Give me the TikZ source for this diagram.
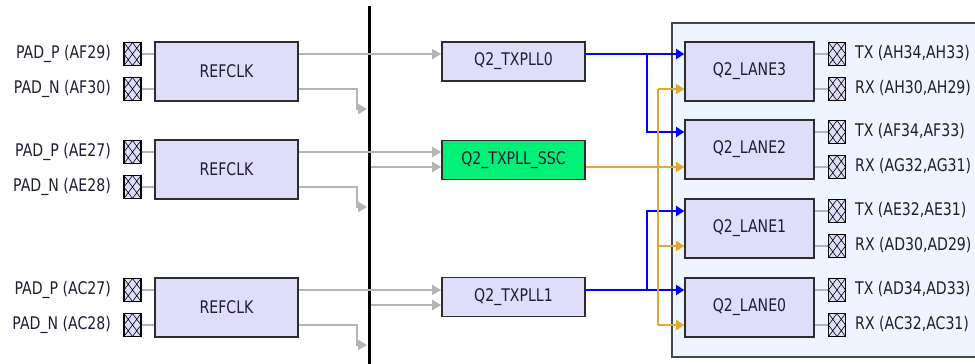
\documentclass[tikz,border=0pt]{standalone}
\usepackage{fontspec}
\setmainfont{DejaVu Sans}[FakeStretch=0.81]
\usetikzlibrary{arrows.meta,calc}
\definecolor{boxfill}{RGB}{222,222,250}
\definecolor{boxdraw}{RGB}{45,45,45}
\definecolor{sscfill}{RGB}{0,240,120}
\definecolor{contfill}{RGB}{238,245,255}
\definecolor{contdraw}{RGB}{70,70,70}
\definecolor{wiregray}{RGB}{180,180,180}
\definecolor{wireblue}{RGB}{0,0,255}
\definecolor{wireorange}{RGB}{226,170,40}
\definecolor{txt}{RGB}{30,30,50}
\begin{document}
\begin{tikzpicture}[x=1pt,y=-1pt,
  font=\fontsize{17.4}{19}\selectfont,
  every node/.style={text=txt},
  blk/.style={draw=boxdraw,line width=1.6pt,fill=boxfill,minimum width=143pt,minimum height=59pt,inner sep=0},
  pll/.style={blk,minimum height=39pt},
  lane/.style={blk,minimum width=129pt},
  pad/.style={draw=black,line width=1.1pt,fill=boxfill,minimum width=17pt,minimum height=23pt,inner sep=0,
    path picture={
      \draw[black,line width=0.6pt]
        (path picture bounding box.north west) -- (path picture bounding box.south east)
        (path picture bounding box.south west) -- (path picture bounding box.north east)
        (path picture bounding box.north) -- (path picture bounding box.east) -- (path picture bounding box.south) -- (path picture bounding box.west) -- cycle;}},
  lbl/.style={inner sep=0,text height=12.7pt,text depth=3.6pt},
  gw/.style={draw=wiregray,line width=1.8pt},
  gwa/.style={gw,-{Triangle[length=9pt,width=10pt]}},
  bw/.style={draw=wireblue,line width=1.8pt,-{Triangle[length=8pt,width=10pt]}},
  ow/.style={draw=wireorange,line width=1.8pt},
  owa/.style={ow,-{Triangle[length=8pt,width=10pt]}}
]
\useasboundingbox (0,0) rectangle (975,364);
\clip (0,0) rectangle (975,364);
\fill[white] (0,0) rectangle (975,364);

% container
\node[draw=contdraw,line width=1.6pt,fill=contfill,minimum width=320pt,minimum height=334pt,inner sep=0,anchor=north west] (cont) at (671,22) {};

% vertical divider
\coordinate (divtop) at (369,6);
\coordinate (divbot) at (369,366);
\draw[line width=3pt,black] (divtop) -- (divbot);

% REFCLK blocks
\node[blk] (r1) at (226.5,71.5) {REFCLK};
\node[blk] (r2) at (226.5,169.5) {REFCLK};
\node[blk] (r3) at (226.5,307.5) {REFCLK};

% left pads
\node[pad] (p1a) at (132.5,54) {};
\node[pad] (p1b) at (132.5,89) {};
\node[pad] (p2a) at (132.5,152) {};
\node[pad] (p2b) at (132.5,187) {};
\node[pad] (p3a) at (132.5,290) {};
\node[pad] (p3b) at (132.5,325) {};
\node[lbl,anchor=east] (l1a) at (111,54) {PAD\_P (AF29)};
\node[lbl,anchor=east] (l1b) at (111,89) {PAD\_N (AF30)};
\node[lbl,anchor=east] (l2a) at (111,152) {PAD\_P (AE27)};
\node[lbl,anchor=east] (l2b) at (111,187) {PAD\_N (AE28)};
\node[lbl,anchor=east] (l3a) at (111,290) {PAD\_P (AC27)};
\node[lbl,anchor=east] (l3b) at (111,325) {PAD\_N (AC28)};
\foreach \p/\r in {p1a/r1,p1b/r1,p2a/r2,p2b/r2,p3a/r3,p3b/r3}
  \draw[gw] (\p.east) -- (\r.west |- \p);

% PLL blocks
\node[pll] (t0) at (513.5,61.5) {Q2\_TXPLL0};
\node[pll,fill=sscfill] (ssc) at (513.5,160) {Q2\_TXPLL\_SSC};
\node[pll] (t1) at (513.5,297) {Q2\_TXPLL1};

% gray wires
\coordinate (v1) at (367,109);
\coordinate (v2) at (367,207);
\coordinate (v3) at (367,345);
\coordinate (s2) at (371,167);
\coordinate (s3) at (371,305);
\draw[gwa] (r1.east |- p1a) -- (t0.west |- p1a);
\draw[gwa] (r1.east |- p1b) -| ++(58,20) -- (v1);
\draw[gwa] (r2.east |- p2a) -- (ssc.west |- p2a);
\draw[gwa] (s2) -- (ssc.west |- s2);
\draw[gwa] (r2.east |- p2b) -| ++(58,20) -- (v2);
\draw[gwa] (r3.east |- p3a) -- (t1.west |- p3a);
\draw[gwa] (s3) -- (t1.west |- s3);
\draw[gwa] (r3.east |- p3b) -| ++(58,20) -- (v3);

% lanes
\node[lane] (ln3) at (749.5,71.5) {Q2\_LANE3};
\node[lane] (ln2) at (749.5,149.5) {Q2\_LANE2};
\node[lane] (ln1) at (749.5,228.5) {Q2\_LANE1};
\node[lane] (ln0) at (749.5,307.5) {Q2\_LANE0};

% lane pads and labels
\foreach \n/\y/\t in {3t/54/{TX (AH34,AH33)},3r/89/{RX (AH30,AH29)},2t/132/{TX (AF34,AF33)},2r/167/{RX (AG32,AG31)},1t/211/{TX (AE32,AE31)},1r/246/{RX (AD30,AD29)},0t/290/{TX (AD34,AD33)},0r/325/{RX (AC32,AC31)}}{
  \node[pad] (q\n) at (837,\y) {};
  \node[lbl,anchor=west] (ql\n) at (855,\y) {\t};
}
\foreach \p/\l in {q3t/ln3,q3r/ln3,q2t/ln2,q2r/ln2,q1t/ln1,q1r/ln1,q0t/ln0,q0r/ln0}
  \draw[gw] (\l.east |- \p) -- (\p.west);

% blue wires
\coordinate (bj0) at (647,54);
\coordinate (bj1) at (647,290);
\draw[bw] (t0.east |- q3t) -- (ln3.west |- q3t);
\draw[bw] (bj0) |- (ln2.west |- q2t);
\draw[bw] (t1.east |- q0t) -- (ln0.west |- q0t);
\draw[bw] (bj1) |- (ln1.west |- q1t);

% orange wires
\coordinate (ot) at (658,89);
\coordinate (ob) at (658,325);
\draw[ow] (ot) -- (ob);
\draw[owa] (ssc.east |- q2r) -- (ln2.west |- q2r);
\draw[owa] (ot) -- (ln3.west |- q3r);
\draw[owa] (658,246) -- (ln1.west |- q1r);
\draw[owa] (ob) -- (ln0.west |- q0r);
\end{tikzpicture}
\end{document}
